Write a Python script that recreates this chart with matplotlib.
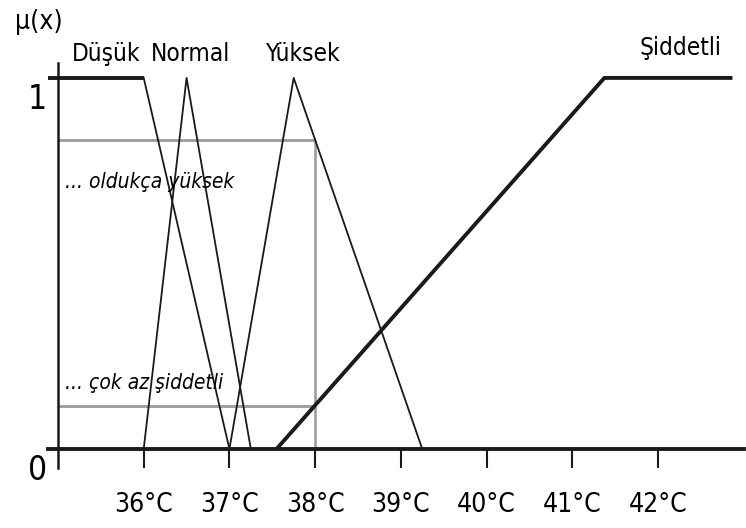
import matplotlib
matplotlib.use("Agg")
from matplotlib import pyplot as plt

plt.rcParams['font.family'] = ['DejaVu Sans']
plt.rcParams['font.stretch'] = 'condensed'

# üyelik fonksiyonlari (sicaklik, mu)
dusuk_x = [34.88, 36.0, 37.0]
dusuk_y = [1, 1, 0]
normal_x = [36.0, 36.5, 37.25]
normal_y = [0, 1, 0]
yuksek_x = [37.0, 37.75, 39.25]
yuksek_y = [0, 1, 0]
siddetli_x = [37.55, 41.375, 42.87]
siddetli_y = [0, 1, 1]

olcum = 38.0
mu_yuksek = 0.833
mu_siddetli = 0.115

x_ticks = [36, 37, 38, 39, 40, 41, 42]
x_labels = ["{}°C".format(t) for t in x_ticks]
y_ticks = [0, 1]

fig = plt.figure(figsize=(7.46, 5.28), dpi=100)
ax = fig.add_axes([0, 0, 1, 1])
ax.set_xlim(34.323, 43.028)
ax.set_ylim(-0.213, 1.210)

# gri okuma cizgileri
ax.hlines([mu_yuksek, mu_siddetli], 35, olcum, color="#9a9a9a", lw=2)
ax.vlines(olcum, 0, mu_yuksek, color="#9a9a9a", lw=1.8)

# egriler
ax.plot(dusuk_x[:2], dusuk_y[:2], color="#1a1a1a", lw=2.8, solid_capstyle="butt")
ax.plot(dusuk_x[1:], dusuk_y[1:], color="#1a1a1a", lw=1.3)
ax.plot(normal_x, normal_y, color="#1a1a1a", lw=1.3)
ax.plot(yuksek_x, yuksek_y, color="#1a1a1a", lw=1.3)
ax.plot(siddetli_x, siddetli_y, color="#1a1a1a", lw=2.8, solid_capstyle="butt")

# eksenler
for s in ["top", "right"]:
    ax.spines[s].set_visible(False)
ax.spines["bottom"].set_position(("data", 0))
ax.spines["bottom"].set_bounds(34.88, 43.0)
ax.spines["left"].set_position(("data", 35))
ax.spines["left"].set_bounds(-0.051, 1.04)
ax.spines["bottom"].set_linewidth(2.8)
ax.spines["left"].set_linewidth(1.8)
ax.spines["bottom"].set_color("#1a1a1a")
ax.spines["left"].set_color("#1a1a1a")

ax.set_xticks(x_ticks)
ax.set_xticklabels(x_labels, fontsize=19)
ax.tick_params(axis="x", direction="out", length=14, width=1.5, pad=17, color="#1a1a1a")
ax.set_yticks([])

# 0 ve 1 etiketleri cizginin biraz altinda
for t in y_ticks:
    ax.text(34.76, t - 0.057, str(t), fontsize=24, ha="center", va="center")

ax.text(34.78, 1.15, "μ(x)", fontsize=19, ha="center", va="center")
ax.text(35.16, 1.046, "Düşük", fontsize=17.5, va="baseline")
ax.text(36.085, 1.046, "Normal", fontsize=17.5, va="baseline")
ax.text(37.415, 1.046, "Yüksek", fontsize=17.5, va="baseline")
ax.text(41.79, 1.062, "Şiddetli", fontsize=17.5, va="baseline")
ax.text(35.08, 0.703, "... oldukça yüksek", fontsize=15, style="italic", va="baseline")
ax.text(35.08, 0.162, "... çok az şiddetli", fontsize=15, style="italic", va="baseline")

fig.savefig("out.png", dpi=100)
